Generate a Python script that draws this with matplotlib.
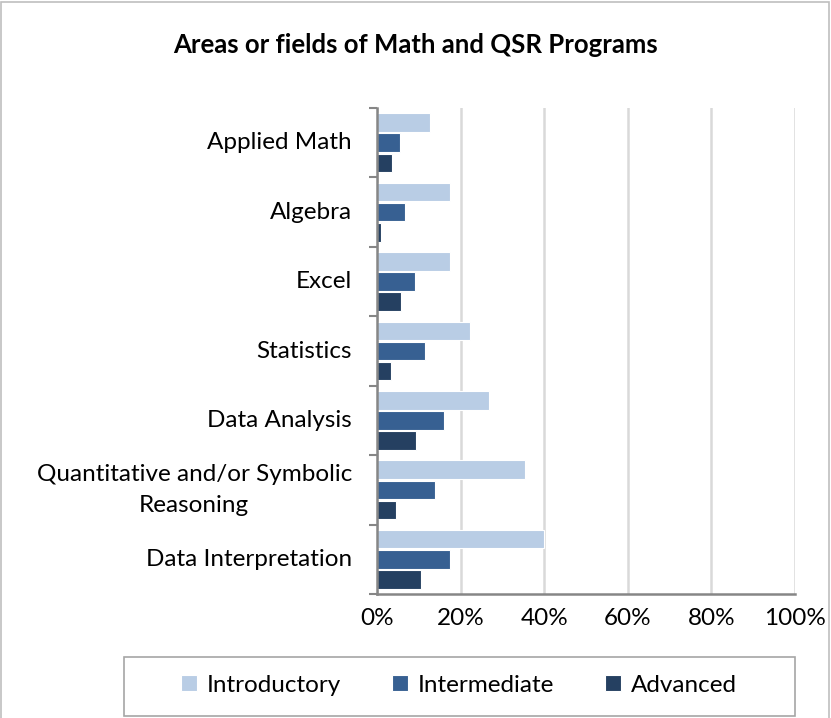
import matplotlib.pyplot as plt
import numpy as np
from matplotlib.patches import Rectangle

plt.rcParams['font.family'] = ['Lato', 'DejaVu Sans']

categories = ["Applied Math", "Algebra", "Excel", "Statistics", "Data Analysis",
              "Quantitative and/or Symbolic\nReasoning", "Data Interpretation"]
series = ["Introductory", "Intermediate", "Advanced"]
introductory = [12.7, 17.4, 17.4, 22.2, 26.9, 35.3, 40.0]
intermediate = [5.5, 6.7, 9.2, 11.5, 16.1, 13.8, 17.4]
advanced = [3.5, 1.0, 5.8, 3.4, 9.3, 4.5, 10.5]
colors = ["#B9CDE5", "#376092", "#254061"]

fig = plt.figure(figsize=(8.31, 7.18), dpi=100)
ax = fig.add_axes([377/831, 1-594/718, (795-377)/831, (594-108)/718])

y = np.arange(len(categories))
h = 0.29
for i, (vals, c) in enumerate(zip([introductory, intermediate, advanced], colors)):
    ax.barh(y - h + i*h, vals, height=h*0.92, color=c, edgecolor="white",
            linewidth=0.8, label=series[i], zorder=3)

ax.set_ylim(len(categories)-0.5, -0.5)
ax.set_xlim(0, 100)
ax.set_xticks(np.arange(0, 101, 20))
ax.set_xticklabels([f"{v}%" for v in range(0, 101, 20)], fontsize=17.5)
ax.tick_params(axis='x', length=0, pad=10)

# category boundaries get the tick marks, labels sit between them
ax.set_yticks(np.arange(-0.5, len(categories), 1))
ax.set_yticklabels([])
ax.tick_params(axis='y', length=6, width=1.5, color="#868686", direction="out")
for yi, lab in zip(y, categories):
    ax.text(-6, yi, lab, ha="right", va="center", fontsize=17.5,
            linespacing=1.55, multialignment="center")

ax.grid(axis='x', color="#D9D9D9", linewidth=1.8, zorder=0)
for s in ["top", "right"]:
    ax.spines[s].set_visible(False)
for s in ["left", "bottom"]:
    ax.spines[s].set_color("#868686")
    ax.spines[s].set_linewidth(1.8)
    ax.spines[s].set_zorder(4)

fig.text(416/831, 1-45/718, "Areas or fields of Math and QSR Programs",
         ha="center", va="center", fontsize=18.5, fontweight="bold")

leg = fig.legend(loc="center", bbox_to_anchor=(459/831, 1-685/718), ncol=3,
                 fontsize=17.5, frameon=False,
                 handlelength=0.65, handleheight=0.65, columnspacing=2.1,
                 handletextpad=0.4)
fig.patches.append(Rectangle((124/831, 1-716/718), (795-124)/831, (716-657)/718,
                             transform=fig.transFigure, fill=False,
                             edgecolor="#A6A6A6", linewidth=1.2))

fig.patches.append(Rectangle((0.001, -0.01), 0.997, 1.007, transform=fig.transFigure,
                             fill=False, edgecolor="#BFBFBF", linewidth=1.2))

fig.savefig("out.png", dpi=100, facecolor="white")
